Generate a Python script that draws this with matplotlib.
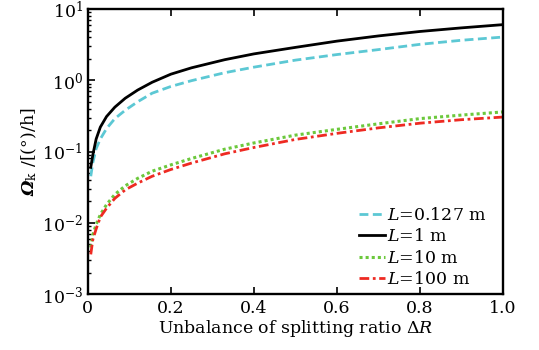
import matplotlib
matplotlib.use("Agg")
import matplotlib.pyplot as plt
from matplotlib.ticker import FixedLocator, FixedFormatter, LogLocator

plt.rcParams['font.family'] = ['DejaVu Serif']
plt.rcParams['mathtext.fontset'] = 'dejavuserif'

# 不平衡分光比 ΔR
delta_r = [0.007, 0.012, 0.02, 0.03, 0.045, 0.065, 0.09, 0.12, 0.155, 0.2,
           0.25, 0.33, 0.4, 0.5, 0.6, 0.7, 0.8, 0.9, 1.0]

# 各光纤长度下的 Ω_k，单位 (°)/h
omega_l0127 = [0.045, 0.07, 0.11, 0.15, 0.21, 0.29, 0.38, 0.5, 0.66, 0.82,
               0.99, 1.28, 1.53, 1.92, 2.3, 2.7, 3.2, 3.65, 4.05]
omega_l1 = [0.06, 0.09, 0.15, 0.22, 0.31, 0.42, 0.56, 0.73, 0.94, 1.22,
            1.5, 1.95, 2.35, 2.9, 3.55, 4.2, 4.85, 5.45, 6.05]
omega_l10 = [0.0045, 0.0068, 0.0095, 0.013, 0.018, 0.025, 0.033, 0.042, 0.053, 0.065,
             0.08, 0.108, 0.132, 0.17, 0.205, 0.245, 0.29, 0.325, 0.36]
omega_l100 = [0.0036, 0.0058, 0.0082, 0.012, 0.016, 0.022, 0.029, 0.036, 0.045, 0.056,
              0.069, 0.093, 0.114, 0.148, 0.18, 0.215, 0.25, 0.28, 0.305]

labels = [r'$L$=0.127 m', r'$L$=1 m', r'$L$=10 m', r'$L$=100 m']
x_ticks = [0, 0.2, 0.4, 0.6, 0.8, 1.0]
x_tick_labels = ['0', '0.2', '0.4', '0.6', '0.8', '1.0']

fig = plt.figure(figsize=(5.39, 3.5), dpi=100)
ax = fig.add_axes([0.163, 0.16, 0.77, 0.814])

ax.plot(delta_r, omega_l0127, color='#5cc8d4', ls=(0, (3.2, 1.6)), lw=2.0, label=labels[0])
ax.plot(delta_r, omega_l1, color='black', ls='-', lw=2.0, label=labels[1])
ax.plot(delta_r, omega_l10, color='#6cc83c', ls=(0, (1, 1)), lw=2.2, label=labels[2])
ax.plot(delta_r, omega_l100, color='#ee2a22', ls=(0, (3.5, 1.3, 1, 1.3)), lw=2.0, label=labels[3])

ax.set_yscale('log')
ax.set_xlim(0, 1.0)
ax.set_ylim(1e-3, 1e1)

ax.xaxis.set_major_locator(FixedLocator(x_ticks))
ax.xaxis.set_major_formatter(FixedFormatter(x_tick_labels))
ax.yaxis.set_major_locator(LogLocator(base=10, numticks=10))
ax.yaxis.set_minor_locator(LogLocator(base=10, subs=range(2, 10), numticks=10))

ax.tick_params(axis='x', which='major', direction='in', length=5, width=1.2,
               top=True, labelsize=12.5, pad=4)
ax.tick_params(axis='y', which='major', direction='in', length=5, width=1.2,
               right=False, labelsize=12.5)
ax.tick_params(axis='y', which='minor', direction='in', length=2.5, width=1.0,
               right=False)

for sp in ax.spines.values():
    sp.set_linewidth(1.7)

ax.set_xlabel(r'Unbalance of splitting ratio $\Delta R$', fontsize=12.5, labelpad=1)
ax.set_ylabel(r'$\mathbfit{\Omega}_{\rm k}$ /[(°)/h]', fontsize=12.5, labelpad=2)

ax.legend(loc='lower right', bbox_to_anchor=(0.975, 0.0), frameon=False,
          fontsize=12.5, handlelength=1.5, handletextpad=0.1, labelspacing=0.25,
          borderaxespad=0.15, borderpad=0.2)

fig.savefig('out.png', dpi=100)
